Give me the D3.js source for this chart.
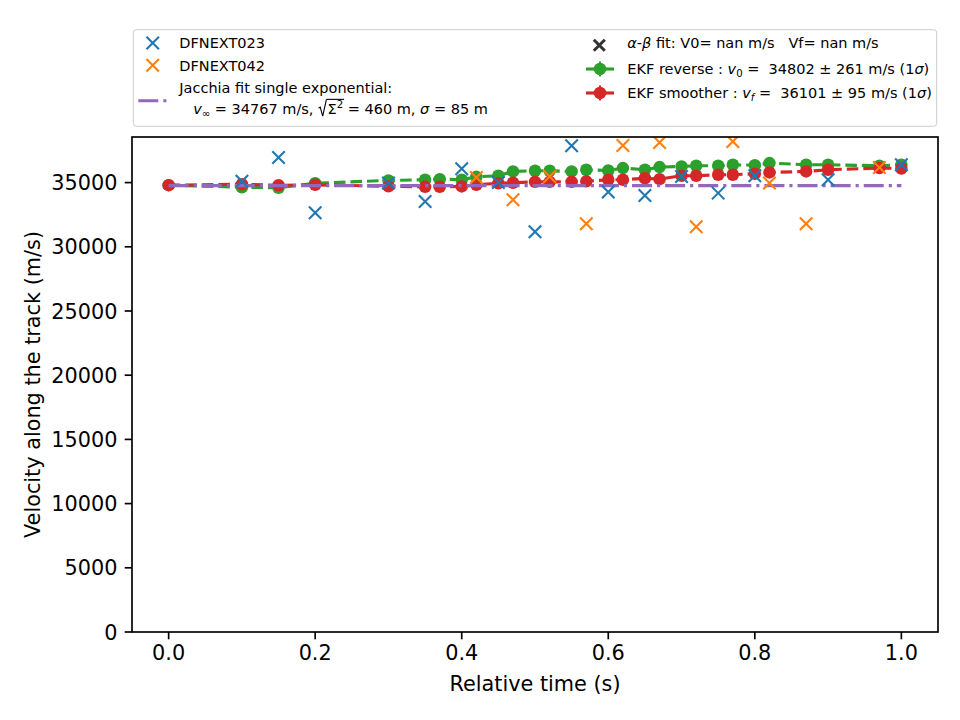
<!DOCTYPE html>
<html><head><meta charset="utf-8">
<script src="https://cdn.jsdelivr.net/npm/d3@7"></script>
<style>html,body{margin:0;padding:0;background:#fff;} text{font-family:"DejaVu Sans";white-space:pre;}</style>
</head><body>
<svg id="chart" width="960" height="720"></svg>
<script>
// ---- data ----
const t023 = [0.1,0.15,0.2,0.3,0.35,0.4,0.45,0.5,0.55,0.6,0.65,0.7,0.75,0.8,0.9,1.0];
const v023 = [35100,36960,32650,34960,33530,36080,35010,31180,37870,34260,34000,35480,34180,35530,35220,36390];
const t042 = [0.42,0.47,0.52,0.57,0.62,0.67,0.72,0.77,0.82,0.87,0.97];
const v042 = [35400,33660,35480,31790,37890,38120,31560,38200,34960,31790,36180];
const tEKF = [0,0.1,0.15,0.2,0.3,0.35,0.37,0.4,0.42,0.45,0.47,0.5,0.52,0.55,0.57,0.6,0.62,0.65,0.67,0.7,0.72,0.75,0.77,0.8,0.82,0.87,0.9,0.97,1.0];
const vReverse = [34802,34640,34600,34950,35170,35220,35270,35220,35450,35530,35870,35920,35920,35870,36000,35940,36130,36000,36210,36260,36310,36310,36390,36350,36520,36390,36390,36310,36390];
const vSmoother = [34800,34870,34790,34830,34710,34670,34670,34700,34830,34950,34990,35060,35060,35060,35100,35220,35220,35340,35270,35530,35530,35610,35610,35690,35790,35870,36000,36130,36101];
const tJacchia = [0,0.25,0.5,0.75,1.0];
const vJacchia = [34767,34767,34767,34767,34767];
const xTicks = [0,0.2,0.4,0.6,0.8,1.0];
const yTicks = [0,5000,10000,15000,20000,25000,30000,35000];
const xLabel = "Relative time (s)";
const yLabel = "Velocity along the track (m/s)";

// ---- layout ----
const L=132, R=938, T=137, B=632;
const C = {blue:"#1f77b4", orange:"#ff7f0e", green:"#2ca02c", red:"#d62728", purple:"#9467bd"};
const svg = d3.select("#chart");

const allV = v023.concat(v042, vReverse, vSmoother, vJacchia);
const vmin = d3.min(allV), vmax = d3.max(allV);
const x = d3.scaleLinear().domain([-0.05, 1.05]).range([L, R]);
const y = d3.scaleLinear().domain([0, vmax + 0.05*(vmax - vmin)]).range([B, T]);

const plot = svg.append("g");
svg.append("clipPath").attr("id","clp").append("rect").attr("x",L).attr("y",T).attr("width",R-L).attr("height",B-T);
plot.attr("clip-path","url(#clp)");

const line = d3.line().x(d=>x(d[0])).y(d=>y(d[1]));
function ekf(ts, vs, col){
  const pts = ts.map((t,i)=>[t,vs[i]]);
  plot.append("path").attr("d", line(pts)).attr("fill","none").attr("stroke",col)
    .attr("stroke-width",3.125).attr("stroke-dasharray","11.56,5");
  plot.selectAll(null).data(pts).enter().append("circle")
    .attr("cx",d=>x(d[0])).attr("cy",d=>y(d[1])).attr("r",6.25).attr("fill",col);
}
ekf(tEKF, vReverse, C.green);
ekf(tEKF, vSmoother, C.red);

plot.append("path").attr("d", line(tJacchia.map((t,i)=>[t,vJacchia[i]])))
  .attr("fill","none").attr("stroke",C.purple).attr("stroke-width",3.125)
  .attr("stroke-dasharray","20,5,3.1,5");

function xMark(g, cx, cy, col, s, w){
  g.append("path").attr("d",`M${cx-s},${cy-s}L${cx+s},${cy+s}M${cx-s},${cy+s}L${cx+s},${cy-s}`)
   .attr("stroke",col).attr("stroke-width",w).attr("fill","none");
}
t023.forEach((t,i)=>xMark(plot, x(t), y(v023[i]), C.blue, 6.25, 2.08));
t042.forEach((t,i)=>xMark(plot, x(t), y(v042[i]), C.orange, 6.25, 2.08));

// ---- axes ----
const ax = svg.append("g");
ax.append("rect").attr("x",L).attr("y",T).attr("width",R-L).attr("height",B-T)
  .attr("fill","none").attr("stroke","#000").attr("stroke-width",1.67);
xTicks.forEach(t=>{
  ax.append("line").attr("x1",x(t)).attr("x2",x(t)).attr("y1",B).attr("y2",B+7.3).attr("stroke","#000").attr("stroke-width",1.67);
  ax.append("text").attr("x",x(t)).attr("y",B+28).attr("text-anchor","middle").attr("font-size",20.8).text(d3.format(".1f")(t));
});
yTicks.forEach(v=>{
  ax.append("line").attr("x1",L-7.3).attr("x2",L).attr("y1",y(v)).attr("y2",y(v)).attr("stroke","#000").attr("stroke-width",1.67);
  ax.append("text").attr("x",L-14.6).attr("y",y(v)+7.6).attr("text-anchor","end").attr("font-size",20.8).text(String(v));
});
ax.append("text").attr("x",(L+R)/2).attr("y",691).attr("text-anchor","middle").attr("font-size",20.8).text(xLabel);
ax.append("text").attr("transform",`translate(40,${(T+B)/2}) rotate(-90)`).attr("text-anchor","middle").attr("font-size",20.8).text(yLabel);

// ---- legend ----
const fs = 14.5;
const lg = svg.append("g");
lg.append("rect").attr("x",133.3).attr("y",29.7).attr("width",803.4).attr("height",96.6).attr("rx",3)
  .attr("fill","#fff").attr("fill-opacity",0.8).attr("stroke","#cccccc").attr("stroke-width",1);

function rich(g, x0, yb, segs){
  let cx = x0, overStart=null, overEnd=null;
  segs.forEach(s=>{
    if (s.sqrt){
      const w = 0.65*fs;
      g.append("path").attr("d",`M${cx+0.5},${yb-0.42*fs}L${cx+0.15*fs},${yb-0.5*fs}L${cx+0.32*fs},${yb+0.12*fs}L${cx+0.58*fs},${yb-1.03*fs}`)
        .attr("fill","none").attr("stroke","#000").attr("stroke-width",1.1);
      overStart = cx+0.58*fs;
      cx += w; return;
    }
    const f = (s.sub||s.sup) ? fs*0.7 : fs;
    const dy = s.sub ? fs*0.22 : (s.sup ? -fs*0.45 : 0);
    const t = g.append("text").attr("x",cx).attr("y",yb+dy).attr("font-size",f)
      .attr("font-style", s.it ? "italic":"normal").text(s.t);
    const w = t.node().getComputedTextLength();
    cx += w;
    if (s.over) overEnd = cx + 1;
  });
  if (overStart!==null && overEnd!==null){
    g.append("line").attr("x1",overStart).attr("x2",overEnd).attr("y1",yb-1.03*fs).attr("y2",yb-1.03*fs)
      .attr("stroke","#000").attr("stroke-width",1.1);
  }
}

// column 1
xMark(lg, 152.7, 43, C.blue, 6.25, 2.08);
rich(lg, 179.3, 48.3, [{t:"DFNEXT023"}]);
xMark(lg, 152.7, 65.3, C.orange, 6.25, 2.08);
rich(lg, 179.3, 70.6, [{t:"DFNEXT042"}]);
lg.append("line").attr("x1",138.3).attr("x2",166.7).attr("y1",100.7).attr("y2",100.7)
  .attr("stroke",C.purple).attr("stroke-width",3.125).attr("stroke-dasharray","20,5,3.1,5");
rich(lg, 179.3, 92.6, [{t:"Jacchia fit single exponential:"}]);
rich(lg, 179.3, 114.3, [{t:"   "},{t:"v",it:true},{t:"∞",sub:true},{t:" = 34767 m/s, "},{sqrt:true},{t:"Σ",over:true},{t:"2",sup:true,over:true},{t:" = 460 m, "},{t:"σ",it:true},{t:" = 85 m"}]);

// column 2
xMark(lg, 599.3, 45.3, "#333", 5.5, 3);
rich(lg, 627.3, 48.3, [{t:"α",it:true},{t:"-"},{t:"β",it:true},{t:" fit: V0= nan m/s   Vf= nan m/s"}]);
function ekfHandle(yc, col){
  lg.append("line").attr("x1",586).attr("x2",614).attr("y1",yc).attr("y2",yc).attr("stroke",col).attr("stroke-width",3.125);
  lg.append("line").attr("x1",600).attr("x2",600).attr("y1",yc-7.5).attr("y2",yc+7.5).attr("stroke",col).attr("stroke-width",2);
  lg.append("circle").attr("cx",600).attr("cy",yc).attr("r",6.25).attr("fill",col);
}
ekfHandle(69, C.green);
rich(lg, 627.3, 74.3, [{t:"EKF reverse : "},{t:"v",it:true},{t:"0",sub:true},{t:" =  34802 ± 261 m/s (1"},{t:"σ",it:true},{t:")"}]);
ekfHandle(93, C.red);
rich(lg, 627.3, 98.3, [{t:"EKF smoother : "},{t:"v",it:true},{t:"f",sub:true,it:true},{t:" =  36101 ± 95 m/s (1"},{t:"σ",it:true},{t:")"}]);
</script>
</body></html>
